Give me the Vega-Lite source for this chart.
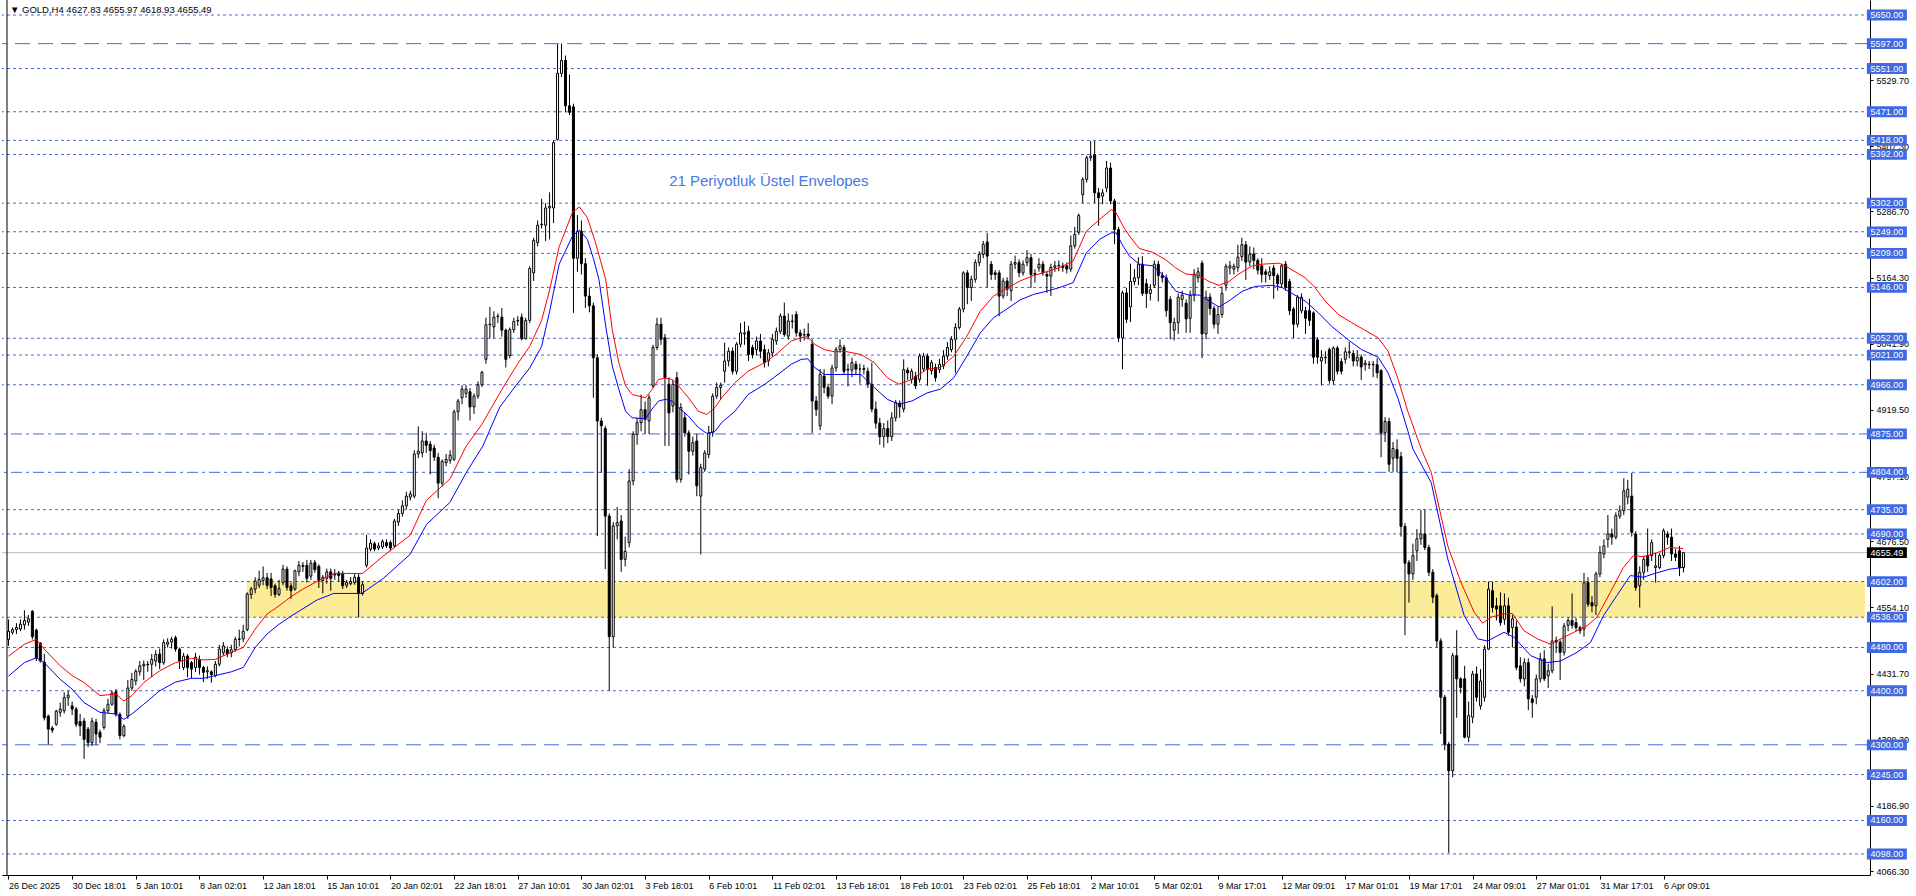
{
"$schema":"https://vega.github.io/schema/vega-lite/v6.json",
"width":1868,"height":875,
"autosize":{"type":"none"},
"padding":{"left":2,"top":0,"right":46,"bottom":21},
"background":"#ffffff",
"config":{"view":{"stroke":null},"font":"Liberation Sans"},
"datasets":{
"candles":[
{"k":0,"o":4495,"h":4532,"l":4483,"c":4510},{"k":1,"o":4508,"h":4517,"l":4504,"c":4513},{"k":2,"o":4513,"h":4525,"l":4505,"c":4517},{"k":3,"o":4514,"h":4532,"l":4510,"c":4523},{"k":4,"o":4522,"h":4549,"l":4513,"c":4530},{"k":5,"o":4527,"h":4540,"l":4520,"c":4533},{"k":6,"o":4547,"h":4549,"l":4495,"c":4500},{"k":7,"o":4512,"h":4515,"l":4455,"c":4461},{"k":8,"o":4488,"h":4490,"l":4452,"c":4455},{"k":9,"o":4453,"h":4468,"l":4345,"c":4350},
{"k":10,"o":4353,"h":4356,"l":4301,"c":4329},{"k":11,"o":4331,"h":4335,"l":4322,"c":4327},{"k":12,"o":4338,"h":4365,"l":4335,"c":4362},{"k":13,"o":4360,"h":4378,"l":4352,"c":4366},{"k":14,"o":4363,"h":4397,"l":4358,"c":4387},{"k":15,"o":4387,"h":4400,"l":4372,"c":4392},{"k":16,"o":4372,"h":4380,"l":4355,"c":4366},{"k":17,"o":4366,"h":4370,"l":4333,"c":4338},{"k":18,"o":4343,"h":4357,"l":4316,"c":4335},{"k":19,"o":4344,"h":4350,"l":4274,"c":4310},
{"k":20,"o":4329,"h":4333,"l":4296,"c":4304},{"k":21,"o":4304,"h":4350,"l":4298,"c":4344},{"k":22,"o":4342,"h":4348,"l":4300,"c":4320},{"k":23,"o":4323,"h":4328,"l":4303,"c":4314},{"k":24,"o":4332,"h":4368,"l":4328,"c":4363},{"k":25,"o":4363,"h":4385,"l":4358,"c":4375},{"k":26,"o":4375,"h":4400,"l":4372,"c":4396},{"k":27,"o":4398,"h":4403,"l":4352,"c":4356},{"k":28,"o":4356,"h":4360,"l":4310,"c":4317},{"k":29,"o":4317,"h":4338,"l":4314,"c":4334},
{"k":30,"o":4353,"h":4420,"l":4348,"c":4405},{"k":31,"o":4405,"h":4433,"l":4400,"c":4421},{"k":32,"o":4418,"h":4440,"l":4410,"c":4436},{"k":33,"o":4435,"h":4455,"l":4428,"c":4446},{"k":34,"o":4446,"h":4456,"l":4420,"c":4449},{"k":35,"o":4449,"h":4455,"l":4435,"c":4448},{"k":36,"o":4449,"h":4468,"l":4425,"c":4458},{"k":37,"o":4455,"h":4475,"l":4445,"c":4467},{"k":38,"o":4468,"h":4478,"l":4440,"c":4452},{"k":39,"o":4452,"h":4495,"l":4448,"c":4489},
{"k":40,"o":4486,"h":4497,"l":4480,"c":4490},{"k":41,"o":4490,"h":4500,"l":4478,"c":4495},{"k":42,"o":4498,"h":4502,"l":4472,"c":4477},{"k":43,"o":4477,"h":4480,"l":4440,"c":4455},{"k":44,"o":4443,"h":4470,"l":4438,"c":4464},{"k":45,"o":4464,"h":4468,"l":4425,"c":4443},{"k":46,"o":4452,"h":4455,"l":4423,"c":4440},{"k":47,"o":4443,"h":4470,"l":4435,"c":4462},{"k":48,"o":4458,"h":4465,"l":4430,"c":4443},{"k":49,"o":4443,"h":4446,"l":4416,"c":4434},
{"k":50,"o":4435,"h":4445,"l":4422,"c":4437},{"k":51,"o":4435,"h":4438,"l":4415,"c":4430},{"k":52,"o":4428,"h":4455,"l":4425,"c":4449},{"k":53,"o":4449,"h":4485,"l":4445,"c":4477},{"k":54,"o":4470,"h":4490,"l":4465,"c":4483},{"k":55,"o":4476,"h":4482,"l":4462,"c":4468},{"k":56,"o":4470,"h":4485,"l":4462,"c":4476},{"k":57,"o":4476,"h":4500,"l":4472,"c":4495},{"k":58,"o":4495,"h":4513,"l":4482,"c":4496},{"k":59,"o":4496,"h":4522,"l":4490,"c":4510},
{"k":60,"o":4513,"h":4582,"l":4510,"c":4579},{"k":61,"o":4578,"h":4592,"l":4570,"c":4588},{"k":62,"o":4588,"h":4610,"l":4580,"c":4603},{"k":63,"o":4595,"h":4622,"l":4590,"c":4606},{"k":64,"o":4604,"h":4630,"l":4595,"c":4609},{"k":65,"o":4609,"h":4618,"l":4588,"c":4595},{"k":66,"o":4607,"h":4618,"l":4575,"c":4591},{"k":67,"o":4594,"h":4598,"l":4572,"c":4578},{"k":68,"o":4578,"h":4605,"l":4575,"c":4589},{"k":69,"o":4600,"h":4633,"l":4595,"c":4625},
{"k":70,"o":4625,"h":4630,"l":4585,"c":4591},{"k":71,"o":4594,"h":4600,"l":4570,"c":4585},{"k":72,"o":4588,"h":4624,"l":4585,"c":4622},{"k":73,"o":4620,"h":4640,"l":4612,"c":4632},{"k":74,"o":4630,"h":4638,"l":4620,"c":4632},{"k":75,"o":4632,"h":4642,"l":4600,"c":4608},{"k":76,"o":4612,"h":4642,"l":4605,"c":4636},{"k":77,"o":4637,"h":4642,"l":4618,"c":4624},{"k":78,"o":4630,"h":4634,"l":4590,"c":4604},{"k":79,"o":4604,"h":4614,"l":4580,"c":4610},
{"k":80,"o":4608,"h":4626,"l":4598,"c":4620},{"k":81,"o":4620,"h":4626,"l":4585,"c":4608},{"k":82,"o":4614,"h":4625,"l":4605,"c":4616},{"k":83,"o":4618,"h":4622,"l":4602,"c":4613},{"k":84,"o":4617,"h":4622,"l":4588,"c":4594},{"k":85,"o":4595,"h":4605,"l":4590,"c":4600},{"k":86,"o":4598,"h":4610,"l":4595,"c":4602},{"k":87,"o":4600,"h":4616,"l":4596,"c":4610},{"k":88,"o":4610,"h":4616,"l":4536,"c":4580},{"k":89,"o":4580,"h":4602,"l":4576,"c":4596},
{"k":90,"o":4632,"h":4688,"l":4628,"c":4664},{"k":91,"o":4662,"h":4680,"l":4658,"c":4673},{"k":92,"o":4672,"h":4676,"l":4658,"c":4662},{"k":93,"o":4664,"h":4674,"l":4660,"c":4668},{"k":94,"o":4666,"h":4680,"l":4662,"c":4676},{"k":95,"o":4674,"h":4680,"l":4664,"c":4668},{"k":96,"o":4674,"h":4678,"l":4658,"c":4664},{"k":97,"o":4668,"h":4718,"l":4664,"c":4714},{"k":98,"o":4712,"h":4735,"l":4705,"c":4728},{"k":99,"o":4728,"h":4752,"l":4722,"c":4742},
{"k":100,"o":4742,"h":4768,"l":4735,"c":4760},{"k":101,"o":4758,"h":4770,"l":4752,"c":4764},{"k":102,"o":4760,"h":4845,"l":4756,"c":4838},{"k":103,"o":4838,"h":4889,"l":4830,"c":4843},{"k":104,"o":4840,"h":4880,"l":4832,"c":4862},{"k":105,"o":4862,"h":4877,"l":4840,"c":4854},{"k":106,"o":4856,"h":4862,"l":4800,"c":4844},{"k":107,"o":4849,"h":4855,"l":4825,"c":4832},{"k":108,"o":4832,"h":4840,"l":4756,"c":4784},{"k":109,"o":4784,"h":4828,"l":4778,"c":4824},
{"k":110,"o":4822,"h":4838,"l":4815,"c":4828},{"k":111,"o":4826,"h":4845,"l":4820,"c":4836},{"k":112,"o":4828,"h":4920,"l":4825,"c":4916},{"k":113,"o":4916,"h":4940,"l":4900,"c":4936},{"k":114,"o":4942,"h":4965,"l":4930,"c":4958},{"k":115,"o":4950,"h":4965,"l":4942,"c":4958},{"k":116,"o":4953,"h":4960,"l":4900,"c":4925},{"k":117,"o":4925,"h":4950,"l":4912,"c":4945},{"k":118,"o":4945,"h":4972,"l":4940,"c":4966},{"k":119,"o":4966,"h":4992,"l":4962,"c":4989},
{"k":120,"o":5013,"h":5090,"l":5005,"c":5077},{"k":121,"o":5077,"h":5110,"l":5052,"c":5078},{"k":122,"o":5073,"h":5102,"l":5052,"c":5091},{"k":123,"o":5092,"h":5098,"l":5080,"c":5093},{"k":124,"o":5091,"h":5108,"l":5055,"c":5067},{"k":125,"o":5067,"h":5070,"l":4998,"c":5013},{"k":126,"o":5020,"h":5072,"l":5015,"c":5068},{"k":127,"o":5068,"h":5090,"l":5062,"c":5083},{"k":128,"o":5084,"h":5093,"l":5075,"c":5085},{"k":129,"o":5091,"h":5098,"l":5048,"c":5051},
{"k":130,"o":5051,"h":5090,"l":5050,"c":5085},{"k":131,"o":5085,"h":5185,"l":5080,"c":5181},{"k":132,"o":5173,"h":5238,"l":5158,"c":5233},{"k":133,"o":5229,"h":5270,"l":5222,"c":5261},{"k":134,"o":5262,"h":5310,"l":5255,"c":5263},{"k":135,"o":5261,"h":5302,"l":5232,"c":5293},{"k":136,"o":5293,"h":5322,"l":5235,"c":5296},{"k":137,"o":5293,"h":5418,"l":5265,"c":5414},{"k":138,"o":5420,"h":5596,"l":5418,"c":5542},{"k":139,"o":5542,"h":5597,"l":5535,"c":5566},
{"k":140,"o":5566,"h":5575,"l":5470,"c":5482},{"k":141,"o":5482,"h":5540,"l":5465,"c":5470},{"k":142,"o":5480,"h":5486,"l":5099,"c":5200},{"k":143,"o":5200,"h":5280,"l":5175,"c":5250},{"k":144,"o":5250,"h":5270,"l":5170,"c":5190},{"k":145,"o":5190,"h":5200,"l":5108,"c":5130},{"k":146,"o":5130,"h":5145,"l":5100,"c":5112},{"k":147,"o":5112,"h":5118,"l":4942,"c":5016},{"k":148,"o":5016,"h":5022,"l":4686,"c":4899},{"k":149,"o":4899,"h":4905,"l":4803,"c":4890},
{"k":150,"o":4885,"h":4890,"l":4625,"c":4723},{"k":151,"o":4723,"h":4728,"l":4400,"c":4500},{"k":152,"o":4500,"h":4712,"l":4480,"c":4705},{"k":153,"o":4705,"h":4740,"l":4680,"c":4711},{"k":154,"o":4714,"h":4725,"l":4620,"c":4643},{"k":155,"o":4643,"h":4685,"l":4630,"c":4658},{"k":156,"o":4674,"h":4810,"l":4665,"c":4788},{"k":157,"o":4788,"h":4880,"l":4780,"c":4874},{"k":158,"o":4874,"h":4905,"l":4855,"c":4896},{"k":159,"o":4896,"h":4948,"l":4880,"c":4920},
{"k":160,"o":4920,"h":4935,"l":4875,"c":4902},{"k":161,"o":4899,"h":4948,"l":4875,"c":4942},{"k":162,"o":4964,"h":5040,"l":4960,"c":5035},{"k":163,"o":5035,"h":5090,"l":5030,"c":5078},{"k":164,"o":5078,"h":5090,"l":5040,"c":5050},{"k":165,"o":5053,"h":5060,"l":4853,"c":4979},{"k":166,"o":4967,"h":4980,"l":4853,"c":4914},{"k":167,"o":4927,"h":4975,"l":4915,"c":4967},{"k":168,"o":4979,"h":4990,"l":4785,"c":4791},{"k":169,"o":4791,"h":4932,"l":4785,"c":4924},
{"k":170,"o":4905,"h":4915,"l":4870,"c":4877},{"k":171,"o":4877,"h":4882,"l":4800,"c":4843},{"k":172,"o":4843,"h":4870,"l":4835,"c":4859},{"k":173,"o":4862,"h":4875,"l":4760,"c":4779},{"k":174,"o":4760,"h":4820,"l":4652,"c":4813},{"k":175,"o":4810,"h":4845,"l":4805,"c":4840},{"k":176,"o":4837,"h":4890,"l":4830,"c":4877},{"k":177,"o":4877,"h":4950,"l":4870,"c":4945},{"k":178,"o":4945,"h":4970,"l":4940,"c":4961},{"k":179,"o":4961,"h":4970,"l":4938,"c":4965},
{"k":180,"o":4991,"h":5044,"l":4970,"c":5010},{"k":181,"o":5010,"h":5035,"l":5000,"c":5028},{"k":182,"o":5028,"h":5035,"l":4985,"c":4991},{"k":183,"o":4991,"h":5045,"l":4985,"c":5041},{"k":184,"o":5041,"h":5080,"l":5035,"c":5062},{"k":185,"o":5060,"h":5083,"l":5040,"c":5062},{"k":186,"o":5065,"h":5075,"l":5010,"c":5022},{"k":187,"o":5035,"h":5040,"l":5015,"c":5022},{"k":188,"o":5031,"h":5055,"l":5020,"c":5047},{"k":189,"o":5047,"h":5060,"l":5015,"c":5028},
{"k":190,"o":5031,"h":5040,"l":4998,"c":5007},{"k":191,"o":5010,"h":5032,"l":5000,"c":5025},{"k":192,"o":5025,"h":5060,"l":5018,"c":5050},{"k":193,"o":5047,"h":5072,"l":5040,"c":5065},{"k":194,"o":5065,"h":5098,"l":5060,"c":5093},{"k":195,"o":5093,"h":5118,"l":5055,"c":5059},{"k":196,"o":5056,"h":5098,"l":5050,"c":5084},{"k":197,"o":5083,"h":5096,"l":5070,"c":5084},{"k":198,"o":5096,"h":5102,"l":5055,"c":5062},{"k":199,"o":5062,"h":5068,"l":5045,"c":5056},
{"k":200,"o":5058,"h":5070,"l":5048,"c":5059},{"k":201,"o":5060,"h":5080,"l":5050,"c":5056},{"k":202,"o":5041,"h":5050,"l":4877,"c":4936},{"k":203,"o":4936,"h":4945,"l":4908,"c":4920},{"k":204,"o":4890,"h":4995,"l":4882,"c":4985},{"k":205,"o":4982,"h":4995,"l":4950,"c":4961},{"k":206,"o":4961,"h":4968,"l":4940,"c":4945},{"k":207,"o":4945,"h":5003,"l":4930,"c":4997},{"k":208,"o":4997,"h":5036,"l":4990,"c":5031},{"k":209,"o":5031,"h":5050,"l":5025,"c":5038},
{"k":210,"o":5035,"h":5040,"l":4985,"c":4991},{"k":211,"o":4993,"h":5005,"l":4963,"c":4995},{"k":212,"o":4993,"h":5016,"l":4980,"c":5007},{"k":213,"o":5004,"h":5010,"l":4985,"c":4995},{"k":214,"o":4995,"h":5005,"l":4968,"c":4995},{"k":215,"o":4994,"h":5003,"l":4985,"c":4996},{"k":216,"o":4991,"h":4998,"l":4960,"c":4967},{"k":217,"o":4967,"h":5007,"l":4915,"c":4921},{"k":218,"o":4921,"h":4935,"l":4885,"c":4895},{"k":219,"o":4895,"h":4905,"l":4855,"c":4870},
{"k":220,"o":4870,"h":4895,"l":4850,"c":4885},{"k":221,"o":4885,"h":4900,"l":4858,"c":4870},{"k":222,"o":4870,"h":4915,"l":4862,"c":4905},{"k":223,"o":4905,"h":4938,"l":4898,"c":4933},{"k":224,"o":4932,"h":4937,"l":4905,"c":4925},{"k":225,"o":4921,"h":5013,"l":4915,"c":4994},{"k":226,"o":4993,"h":4998,"l":4975,"c":4988},{"k":227,"o":4976,"h":4996,"l":4968,"c":4991},{"k":228,"o":4982,"h":4990,"l":4958,"c":4964},{"k":229,"o":4976,"h":5024,"l":4970,"c":5019},
{"k":230,"o":4995,"h":5025,"l":4990,"c":5019},{"k":231,"o":5019,"h":5024,"l":4964,"c":4995},{"k":232,"o":4992,"h":5012,"l":4985,"c":5007},{"k":233,"o":4998,"h":5005,"l":4972,"c":4979},{"k":234,"o":4994,"h":5014,"l":4988,"c":5004},{"k":235,"o":5001,"h":5030,"l":4995,"c":5019},{"k":236,"o":5019,"h":5045,"l":5012,"c":5035},{"k":237,"o":5031,"h":5056,"l":5026,"c":5050},{"k":238,"o":5050,"h":5080,"l":4988,"c":5072},{"k":239,"o":5072,"h":5110,"l":5068,"c":5106},
{"k":240,"o":5106,"h":5176,"l":5100,"c":5173},{"k":241,"o":5173,"h":5178,"l":5115,"c":5146},{"k":242,"o":5146,"h":5168,"l":5121,"c":5161},{"k":243,"o":5161,"h":5198,"l":5155,"c":5192},{"k":244,"o":5192,"h":5213,"l":5185,"c":5207},{"k":245,"o":5207,"h":5232,"l":5200,"c":5226},{"k":246,"o":5230,"h":5247,"l":5146,"c":5204},{"k":247,"o":5189,"h":5195,"l":5160,"c":5170},{"k":248,"o":5173,"h":5178,"l":5160,"c":5170},{"k":249,"o":5173,"h":5178,"l":5093,"c":5130},
{"k":250,"o":5130,"h":5164,"l":5125,"c":5158},{"k":251,"o":5158,"h":5165,"l":5130,"c":5143},{"k":252,"o":5140,"h":5195,"l":5121,"c":5189},{"k":253,"o":5189,"h":5205,"l":5180,"c":5192},{"k":254,"o":5192,"h":5198,"l":5165,"c":5173},{"k":255,"o":5173,"h":5196,"l":5168,"c":5189},{"k":256,"o":5192,"h":5215,"l":5185,"c":5201},{"k":257,"o":5201,"h":5208,"l":5145,"c":5170},{"k":258,"o":5172,"h":5180,"l":5155,"c":5170},{"k":259,"o":5182,"h":5200,"l":5175,"c":5189},
{"k":260,"o":5189,"h":5195,"l":5168,"c":5173},{"k":261,"o":5170,"h":5176,"l":5136,"c":5167},{"k":262,"o":5167,"h":5190,"l":5130,"c":5183},{"k":263,"o":5183,"h":5195,"l":5175,"c":5186},{"k":264,"o":5186,"h":5196,"l":5176,"c":5187},{"k":265,"o":5186,"h":5192,"l":5175,"c":5183},{"k":266,"o":5186,"h":5192,"l":5172,"c":5180},{"k":267,"o":5180,"h":5242,"l":5175,"c":5223},{"k":268,"o":5223,"h":5258,"l":5218,"c":5244},{"k":269,"o":5248,"h":5283,"l":5243,"c":5279},
{"k":270,"o":5318,"h":5350,"l":5302,"c":5346},{"k":271,"o":5346,"h":5390,"l":5340,"c":5386},{"k":272,"o":5386,"h":5417,"l":5380,"c":5389},{"k":273,"o":5392,"h":5417,"l":5302,"c":5321},{"k":274,"o":5321,"h":5330,"l":5260,"c":5312},{"k":275,"o":5315,"h":5328,"l":5300,"c":5321},{"k":276,"o":5330,"h":5380,"l":5322,"c":5367},{"k":277,"o":5367,"h":5377,"l":5300,"c":5306},{"k":278,"o":5306,"h":5310,"l":5226,"c":5253},{"k":279,"o":5253,"h":5258,"l":5045,"c":5053},
{"k":280,"o":5053,"h":5140,"l":4995,"c":5136},{"k":281,"o":5136,"h":5145,"l":5080,"c":5087},{"k":282,"o":5110,"h":5190,"l":5082,"c":5157},{"k":283,"o":5157,"h":5180,"l":5150,"c":5164},{"k":284,"o":5164,"h":5202,"l":5150,"c":5189},{"k":285,"o":5189,"h":5204,"l":5130,"c":5135},{"k":286,"o":5153,"h":5162,"l":5108,"c":5135},{"k":287,"o":5135,"h":5152,"l":5122,"c":5142},{"k":288,"o":5150,"h":5196,"l":5145,"c":5189},{"k":289,"o":5189,"h":5195,"l":5120,"c":5168},
{"k":290,"o":5168,"h":5175,"l":5155,"c":5164},{"k":291,"o":5164,"h":5170,"l":5092,"c":5103},{"k":292,"o":5124,"h":5130,"l":5050,"c":5081},{"k":293,"o":5067,"h":5090,"l":5048,"c":5081},{"k":294,"o":5081,"h":5135,"l":5060,"c":5128},{"k":295,"o":5124,"h":5140,"l":5110,"c":5132},{"k":296,"o":5117,"h":5124,"l":5062,"c":5088},{"k":297,"o":5089,"h":5140,"l":5062,"c":5132},{"k":298,"o":5132,"h":5180,"l":5120,"c":5171},{"k":299,"o":5164,"h":5183,"l":5155,"c":5175},
{"k":300,"o":5191,"h":5196,"l":5015,"c":5060},{"k":301,"o":5060,"h":5140,"l":5050,"c":5128},{"k":302,"o":5128,"h":5135,"l":5095,"c":5107},{"k":303,"o":5107,"h":5112,"l":5070,"c":5078},{"k":304,"o":5078,"h":5110,"l":5060,"c":5096},{"k":305,"o":5096,"h":5148,"l":5090,"c":5135},{"k":306,"o":5150,"h":5190,"l":5140,"c":5185},{"k":307,"o":5182,"h":5195,"l":5170,"c":5186},{"k":308,"o":5180,"h":5190,"l":5170,"c":5185},{"k":309,"o":5183,"h":5225,"l":5175,"c":5202},
{"k":310,"o":5203,"h":5238,"l":5195,"c":5225},{"k":311,"o":5225,"h":5232,"l":5160,"c":5193},{"k":312,"o":5193,"h":5222,"l":5185,"c":5207},{"k":313,"o":5208,"h":5220,"l":5180,"c":5196},{"k":314,"o":5196,"h":5200,"l":5170,"c":5178},{"k":315,"o":5186,"h":5200,"l":5155,"c":5170},{"k":316,"o":5175,"h":5180,"l":5155,"c":5170},{"k":317,"o":5168,"h":5185,"l":5160,"c":5175},{"k":318,"o":5182,"h":5188,"l":5125,"c":5168},{"k":319,"o":5168,"h":5172,"l":5140,"c":5153},
{"k":320,"o":5153,"h":5190,"l":5145,"c":5186},{"k":321,"o":5189,"h":5195,"l":5140,"c":5146},{"k":322,"o":5157,"h":5162,"l":5095,"c":5103},{"k":323,"o":5106,"h":5110,"l":5052,"c":5078},{"k":324,"o":5078,"h":5132,"l":5072,"c":5128},{"k":325,"o":5103,"h":5135,"l":5098,"c":5128},{"k":326,"o":5103,"h":5110,"l":5060,"c":5089},{"k":327,"o":5103,"h":5125,"l":5075,"c":5085},{"k":328,"o":5099,"h":5102,"l":5005,"c":5017},{"k":329,"o":5049,"h":5054,"l":5005,"c":5017},
{"k":330,"o":5010,"h":5030,"l":4965,"c":5017},{"k":331,"o":5017,"h":5028,"l":5005,"c":5016},{"k":332,"o":5031,"h":5035,"l":4968,"c":4974},{"k":333,"o":4974,"h":5037,"l":4966,"c":5034},{"k":334,"o":5034,"h":5038,"l":4985,"c":4991},{"k":335,"o":5009,"h":5015,"l":4985,"c":4991},{"k":336,"o":5013,"h":5035,"l":5005,"c":5027},{"k":337,"o":5025,"h":5045,"l":5015,"c":5027},{"k":338,"o":5024,"h":5030,"l":5000,"c":5010},{"k":339,"o":5010,"h":5030,"l":5000,"c":5017},
{"k":340,"o":5017,"h":5022,"l":4975,"c":4999},{"k":341,"o":5003,"h":5012,"l":4992,"c":5006},{"k":342,"o":5004,"h":5010,"l":4995,"c":5003},{"k":343,"o":5004,"h":5010,"l":4980,"c":5003},{"k":344,"o":5003,"h":5015,"l":4978,"c":4988},{"k":345,"o":4992,"h":4995,"l":4832,"c":4877},{"k":346,"o":4877,"h":4906,"l":4860,"c":4898},{"k":347,"o":4898,"h":4905,"l":4805,"c":4819},{"k":348,"o":4830,"h":4860,"l":4805,"c":4848},{"k":349,"o":4846,"h":4865,"l":4805,"c":4830},
{"k":350,"o":4833,"h":4842,"l":4685,"c":4704},{"k":351,"o":4704,"h":4710,"l":4503,"c":4636},{"k":352,"o":4637,"h":4642,"l":4563,"c":4616},{"k":353,"o":4616,"h":4672,"l":4605,"c":4650},{"k":354,"o":4659,"h":4699,"l":4640,"c":4681},{"k":355,"o":4681,"h":4735,"l":4670,"c":4690},{"k":356,"o":4690,"h":4735,"l":4660,"c":4665},{"k":357,"o":4665,"h":4670,"l":4612,"c":4619},{"k":358,"o":4619,"h":4625,"l":4562,"c":4573},{"k":359,"o":4576,"h":4580,"l":4480,"c":4492},
{"k":360,"o":4492,"h":4497,"l":4320,"c":4388},{"k":361,"o":4388,"h":4392,"l":4290,"c":4301},{"k":362,"o":4301,"h":4305,"l":4100,"c":4252},{"k":363,"o":4252,"h":4470,"l":4240,"c":4465},{"k":364,"o":4465,"h":4512,"l":4350,"c":4422},{"k":365,"o":4422,"h":4425,"l":4395,"c":4406},{"k":366,"o":4422,"h":4446,"l":4312,"c":4314},{"k":367,"o":4314,"h":4380,"l":4305,"c":4354},{"k":368,"o":4351,"h":4437,"l":4340,"c":4431},{"k":369,"o":4431,"h":4445,"l":4380,"c":4388},
{"k":370,"o":4372,"h":4440,"l":4365,"c":4418},{"k":371,"o":4388,"h":4484,"l":4380,"c":4477},{"k":372,"o":4477,"h":4602,"l":4475,"c":4588},{"k":373,"o":4585,"h":4602,"l":4545,"c":4554},{"k":374,"o":4557,"h":4572,"l":4530,"c":4551},{"k":375,"o":4557,"h":4582,"l":4520,"c":4526},{"k":376,"o":4532,"h":4580,"l":4522,"c":4557},{"k":377,"o":4557,"h":4572,"l":4502,"c":4508},{"k":378,"o":4517,"h":4540,"l":4480,"c":4533},{"k":379,"o":4518,"h":4530,"l":4438,"c":4443},
{"k":380,"o":4446,"h":4462,"l":4415,"c":4422},{"k":381,"o":4422,"h":4460,"l":4408,"c":4452},{"k":382,"o":4452,"h":4460,"l":4364,"c":4385},{"k":383,"o":4385,"h":4392,"l":4350,"c":4378},{"k":384,"o":4388,"h":4430,"l":4375,"c":4422},{"k":385,"o":4422,"h":4470,"l":4415,"c":4459},{"k":386,"o":4459,"h":4475,"l":4418,"c":4422},{"k":387,"o":4428,"h":4450,"l":4405,"c":4437},{"k":388,"o":4437,"h":4556,"l":4432,"c":4492},{"k":389,"o":4493,"h":4500,"l":4470,"c":4490},
{"k":390,"o":4490,"h":4495,"l":4420,"c":4471},{"k":391,"o":4471,"h":4525,"l":4465,"c":4520},{"k":392,"o":4521,"h":4535,"l":4510,"c":4530},{"k":393,"o":4530,"h":4580,"l":4515,"c":4521},{"k":394,"o":4526,"h":4535,"l":4510,"c":4517},{"k":395,"o":4517,"h":4520,"l":4505,"c":4511},{"k":396,"o":4514,"h":4618,"l":4500,"c":4600},{"k":397,"o":4600,"h":4610,"l":4555,"c":4560},{"k":398,"o":4563,"h":4575,"l":4545,"c":4557},{"k":399,"o":4557,"h":4620,"l":4540,"c":4616},
{"k":400,"o":4616,"h":4668,"l":4610,"c":4656},{"k":401,"o":4653,"h":4680,"l":4645,"c":4668},{"k":402,"o":4680,"h":4725,"l":4665,"c":4690},{"k":403,"o":4690,"h":4700,"l":4670,"c":4684},{"k":404,"o":4684,"h":4730,"l":4680,"c":4724},{"k":405,"o":4723,"h":4743,"l":4718,"c":4733},{"k":406,"o":4733,"h":4793,"l":4725,"c":4770},{"k":407,"o":4758,"h":4790,"l":4745,"c":4773},{"k":408,"o":4760,"h":4803,"l":4685,"c":4693},{"k":409,"o":4690,"h":4695,"l":4585,"c":4591},
{"k":410,"o":4594,"h":4630,"l":4554,"c":4619},{"k":411,"o":4619,"h":4650,"l":4605,"c":4643},{"k":412,"o":4650,"h":4700,"l":4620,"c":4631},{"k":413,"o":4650,"h":4680,"l":4640,"c":4674},{"k":414,"o":4628,"h":4655,"l":4600,"c":4631},{"k":415,"o":4628,"h":4655,"l":4625,"c":4650},{"k":416,"o":4650,"h":4700,"l":4645,"c":4696},{"k":417,"o":4690,"h":4695,"l":4670,"c":4684},{"k":418,"o":4684,"h":4700,"l":4640,"c":4653},{"k":419,"o":4653,"h":4662,"l":4640,"c":4647},
{"k":420,"o":4659,"h":4668,"l":4612,"c":4628},{"k":421,"o":4627.83,"h":4655.97,"l":4618.93,"c":4655.49}
],
"env":[
{"k":0,"v":4464,"band":"upper"},{"k":4,"v":4486,"band":"upper"},{"k":7,"v":4495,"band":"upper"},{"k":9,"v":4477,"band":"upper"},{"k":13,"v":4446,"band":"upper"},{"k":16,"v":4428,"band":"upper"},{"k":19,"v":4415,"band":"upper"},{"k":23,"v":4391,"band":"upper"},{"k":27,"v":4394,"band":"upper"},{"k":29,"v":4381,"band":"upper"},{"k":31,"v":4391,"band":"upper"},{"k":34,"v":4415,"band":"upper"},{"k":38,"v":4437,"band":"upper"},{"k":42,"v":4452,"band":"upper"},{"k":46,"v":4460,"band":"upper"},{"k":49,"v":4457,"band":"upper"},{"k":52,"v":4458,"band":"upper"},{"k":56,"v":4471,"band":"upper"},{"k":59,"v":4480,"band":"upper"},{"k":62,"v":4514,"band":"upper"},{"k":65,"v":4542,"band":"upper"},{"k":68,"v":4557,"band":"upper"},{"k":71,"v":4574,"band":"upper"},{"k":74,"v":4588,"band":"upper"},{"k":78,"v":4604,"band":"upper"},{"k":82,"v":4617,"band":"upper"},{"k":89,"v":4617,"band":"upper"},{"k":94,"v":4648,"band":"upper"},{"k":101,"v":4688,"band":"upper"},{"k":105,"v":4752,"band":"upper"},{"k":111,"v":4792,"band":"upper"},{"k":115,"v":4852,"band":"upper"},{"k":119,"v":4893,"band":"upper"},{"k":124,"v":4957,"band":"upper"},{"k":128,"v":5005,"band":"upper"},{"k":131,"v":5037,"band":"upper"},{"k":134,"v":5085,"band":"upper"},{"k":136,"v":5141,"band":"upper"},{"k":138.4,"v":5221,"band":"upper"},{"k":141.75,"v":5285,"band":"upper"},{"k":143.5,"v":5295,"band":"upper"},{"k":145.5,"v":5275,"band":"upper"},{"k":147.5,"v":5230,"band":"upper"},{"k":150.1,"v":5161,"band":"upper"},{"k":151.75,"v":5068,"band":"upper"},{"k":153.4,"v":5007,"band":"upper"},{"k":155.1,"v":4964,"band":"upper"},{"k":156.75,"v":4948,"band":"upper"},{"k":160.1,"v":4942,"band":"upper"},{"k":161.75,"v":4957,"band":"upper"},{"k":163.4,"v":4976,"band":"upper"},{"k":165.1,"v":4978,"band":"upper"},{"k":166.75,"v":4976,"band":"upper"},{"k":168.4,"v":4964,"band":"upper"},{"k":170.9,"v":4942,"band":"upper"},{"k":173.4,"v":4917,"band":"upper"},{"k":175.5,"v":4911,"band":"upper"},{"k":177.6,"v":4924,"band":"upper"},{"k":179.25,"v":4942,"band":"upper"},{"k":182.6,"v":4970,"band":"upper"},{"k":185.9,"v":4991,"band":"upper"},{"k":190.1,"v":5007,"band":"upper"},{"k":193.4,"v":5025,"band":"upper"},{"k":196.75,"v":5047,"band":"upper"},{"k":199.25,"v":5053,"band":"upper"},{"k":200.9,"v":5055,"band":"upper"},{"k":202.6,"v":5041,"band":"upper"},{"k":205.1,"v":5031,"band":"upper"},{"k":207.6,"v":5027,"band":"upper"},{"k":210.1,"v":5028,"band":"upper"},{"k":214.25,"v":5022,"band":"upper"},{"k":217.6,"v":5007,"band":"upper"},{"k":220.9,"v":4979,"band":"upper"},{"k":223.8,"v":4967,"band":"upper"},{"k":227.1,"v":4976,"band":"upper"},{"k":230.9,"v":4995,"band":"upper"},{"k":234.25,"v":4998,"band":"upper"},{"k":237.6,"v":5019,"band":"upper"},{"k":240.9,"v":5056,"band":"upper"},{"k":244.25,"v":5102,"band":"upper"},{"k":247.6,"v":5130,"band":"upper"},{"k":250.9,"v":5144,"band":"upper"},{"k":254.25,"v":5158,"band":"upper"},{"k":257.6,"v":5168,"band":"upper"},{"k":260.9,"v":5175,"band":"upper"},{"k":264.25,"v":5183,"band":"upper"},{"k":267.6,"v":5195,"band":"upper"},{"k":270.9,"v":5250,"band":"upper"},{"k":274.25,"v":5272,"band":"upper"},{"k":277.2,"v":5290,"band":"upper"},{"k":278.4,"v":5284,"band":"upper"},{"k":280.1,"v":5260,"band":"upper"},{"k":281.75,"v":5241,"band":"upper"},{"k":284.25,"v":5218,"band":"upper"},{"k":287.6,"v":5211,"band":"upper"},{"k":290.9,"v":5197,"band":"upper"},{"k":293.4,"v":5182,"band":"upper"},{"k":295.9,"v":5171,"band":"upper"},{"k":299.25,"v":5168,"band":"upper"},{"k":301.75,"v":5157,"band":"upper"},{"k":304.25,"v":5150,"band":"upper"},{"k":306.75,"v":5157,"band":"upper"},{"k":309.25,"v":5171,"band":"upper"},{"k":312.6,"v":5186,"band":"upper"},{"k":315.1,"v":5189,"band":"upper"},{"k":319.25,"v":5191,"band":"upper"},{"k":320.9,"v":5186,"band":"upper"},{"k":323.4,"v":5175,"band":"upper"},{"k":325.9,"v":5164,"band":"upper"},{"k":328.4,"v":5146,"band":"upper"},{"k":330.9,"v":5121,"band":"upper"},{"k":334.25,"v":5096,"band":"upper"},{"k":337.6,"v":5081,"band":"upper"},{"k":340.9,"v":5067,"band":"upper"},{"k":344.25,"v":5053,"band":"upper"},{"k":346.75,"v":5028,"band":"upper"},{"k":349.25,"v":4977,"band":"upper"},{"k":351.75,"v":4916,"band":"upper"},{"k":355.1,"v":4847,"band":"upper"},{"k":357.6,"v":4804,"band":"upper"},{"k":361.75,"v":4668,"band":"upper"},{"k":365.1,"v":4600,"band":"upper"},{"k":368.4,"v":4545,"band":"upper"},{"k":370.5,"v":4525,"band":"upper"},{"k":372.6,"v":4536,"band":"upper"},{"k":375.9,"v":4542,"band":"upper"},{"k":378,"v":4543,"band":"upper"},{"k":380.9,"v":4511,"band":"upper"},{"k":384.25,"v":4496,"band":"upper"},{"k":387.6,"v":4486,"band":"upper"},{"k":390.9,"v":4499,"band":"upper"},{"k":394.25,"v":4511,"band":"upper"},{"k":396.75,"v":4520,"band":"upper"},{"k":399.25,"v":4536,"band":"upper"},{"k":402.6,"v":4582,"band":"upper"},{"k":405.9,"v":4628,"band":"upper"},{"k":408.4,"v":4650,"band":"upper"},{"k":410.9,"v":4648,"band":"upper"},{"k":414.25,"v":4655,"band":"upper"},{"k":417.6,"v":4665,"band":"upper"},{"k":420.9,"v":4663,"band":"upper"},
{"k":0,"v":4427,"band":"lower"},{"k":4,"v":4452,"band":"lower"},{"k":7,"v":4461,"band":"lower"},{"k":9,"v":4452,"band":"lower"},{"k":13,"v":4421,"band":"lower"},{"k":16,"v":4403,"band":"lower"},{"k":19,"v":4378,"band":"lower"},{"k":23,"v":4360,"band":"lower"},{"k":27,"v":4357,"band":"lower"},{"k":29,"v":4347,"band":"lower"},{"k":31,"v":4357,"band":"lower"},{"k":34,"v":4375,"band":"lower"},{"k":38,"v":4400,"band":"lower"},{"k":42,"v":4416,"band":"lower"},{"k":46,"v":4423,"band":"lower"},{"k":49,"v":4423,"band":"lower"},{"k":52,"v":4428,"band":"lower"},{"k":56,"v":4435,"band":"lower"},{"k":59,"v":4443,"band":"lower"},{"k":62,"v":4480,"band":"lower"},{"k":65,"v":4505,"band":"lower"},{"k":68,"v":4523,"band":"lower"},{"k":71,"v":4538,"band":"lower"},{"k":77.6,"v":4568,"band":"lower"},{"k":81.75,"v":4580,"band":"lower"},{"k":88.8,"v":4580,"band":"lower"},{"k":94.25,"v":4608,"band":"lower"},{"k":100.9,"v":4652,"band":"lower"},{"k":105.1,"v":4708,"band":"lower"},{"k":110.9,"v":4748,"band":"lower"},{"k":115.1,"v":4804,"band":"lower"},{"k":119.25,"v":4853,"band":"lower"},{"k":123.5,"v":4925,"band":"lower"},{"k":127.6,"v":4965,"band":"lower"},{"k":131,"v":4997,"band":"lower"},{"k":134,"v":5037,"band":"lower"},{"k":136,"v":5101,"band":"lower"},{"k":138.4,"v":5189,"band":"lower"},{"k":141.75,"v":5241,"band":"lower"},{"k":143.5,"v":5252,"band":"lower"},{"k":145.5,"v":5235,"band":"lower"},{"k":147,"v":5200,"band":"lower"},{"k":148.4,"v":5161,"band":"lower"},{"k":150.1,"v":5075,"band":"lower"},{"k":151.75,"v":5001,"band":"lower"},{"k":153.4,"v":4958,"band":"lower"},{"k":155.1,"v":4917,"band":"lower"},{"k":156.75,"v":4905,"band":"lower"},{"k":160.1,"v":4903,"band":"lower"},{"k":161.75,"v":4921,"band":"lower"},{"k":163.4,"v":4936,"band":"lower"},{"k":165.1,"v":4939,"band":"lower"},{"k":166.75,"v":4936,"band":"lower"},{"k":168.4,"v":4924,"band":"lower"},{"k":170.9,"v":4908,"band":"lower"},{"k":173.4,"v":4887,"band":"lower"},{"k":175.5,"v":4876,"band":"lower"},{"k":177.6,"v":4880,"band":"lower"},{"k":179.25,"v":4896,"band":"lower"},{"k":182.6,"v":4917,"band":"lower"},{"k":185.9,"v":4948,"band":"lower"},{"k":190.1,"v":4967,"band":"lower"},{"k":193.4,"v":4985,"band":"lower"},{"k":196.75,"v":5004,"band":"lower"},{"k":199.25,"v":5013,"band":"lower"},{"k":200.9,"v":5014,"band":"lower"},{"k":202.6,"v":4998,"band":"lower"},{"k":205.1,"v":4985,"band":"lower"},{"k":207.6,"v":4985,"band":"lower"},{"k":210.1,"v":4985,"band":"lower"},{"k":214.25,"v":4985,"band":"lower"},{"k":217.6,"v":4961,"band":"lower"},{"k":220.9,"v":4939,"band":"lower"},{"k":223.8,"v":4930,"band":"lower"},{"k":227.1,"v":4936,"band":"lower"},{"k":230.9,"v":4951,"band":"lower"},{"k":234.25,"v":4958,"band":"lower"},{"k":237.6,"v":4979,"band":"lower"},{"k":240.9,"v":5019,"band":"lower"},{"k":244.25,"v":5062,"band":"lower"},{"k":247.6,"v":5090,"band":"lower"},{"k":250.9,"v":5106,"band":"lower"},{"k":254.25,"v":5123,"band":"lower"},{"k":257.6,"v":5133,"band":"lower"},{"k":260.9,"v":5139,"band":"lower"},{"k":264.25,"v":5146,"band":"lower"},{"k":267.6,"v":5155,"band":"lower"},{"k":270.9,"v":5210,"band":"lower"},{"k":274.25,"v":5235,"band":"lower"},{"k":275.9,"v":5242,"band":"lower"},{"k":277.2,"v":5247,"band":"lower"},{"k":278.4,"v":5247,"band":"lower"},{"k":280.1,"v":5223,"band":"lower"},{"k":281.75,"v":5204,"band":"lower"},{"k":284.25,"v":5189,"band":"lower"},{"k":287.6,"v":5186,"band":"lower"},{"k":290.9,"v":5164,"band":"lower"},{"k":293.4,"v":5139,"band":"lower"},{"k":296.75,"v":5132,"band":"lower"},{"k":299.25,"v":5132,"band":"lower"},{"k":301.75,"v":5121,"band":"lower"},{"k":304.25,"v":5110,"band":"lower"},{"k":306.75,"v":5121,"band":"lower"},{"k":310.1,"v":5139,"band":"lower"},{"k":313.4,"v":5148,"band":"lower"},{"k":317.6,"v":5150,"band":"lower"},{"k":320.1,"v":5146,"band":"lower"},{"k":322.6,"v":5135,"band":"lower"},{"k":325.9,"v":5121,"band":"lower"},{"k":329.25,"v":5099,"band":"lower"},{"k":332.6,"v":5074,"band":"lower"},{"k":336.75,"v":5049,"band":"lower"},{"k":340.1,"v":5031,"band":"lower"},{"k":344.25,"v":5017,"band":"lower"},{"k":346.75,"v":4988,"band":"lower"},{"k":349.25,"v":4941,"band":"lower"},{"k":351.75,"v":4880,"band":"lower"},{"k":353,"v":4847,"band":"lower"},{"k":357.6,"v":4785,"band":"lower"},{"k":361.75,"v":4644,"band":"lower"},{"k":365.9,"v":4539,"band":"lower"},{"k":369.25,"v":4496,"band":"lower"},{"k":371.75,"v":4492,"band":"lower"},{"k":375.9,"v":4508,"band":"lower"},{"k":378.4,"v":4499,"band":"lower"},{"k":382.6,"v":4465,"band":"lower"},{"k":386.75,"v":4452,"band":"lower"},{"k":390.1,"v":4455,"band":"lower"},{"k":394.25,"v":4471,"band":"lower"},{"k":397.6,"v":4489,"band":"lower"},{"k":400.9,"v":4539,"band":"lower"},{"k":404.25,"v":4576,"band":"lower"},{"k":407.6,"v":4613,"band":"lower"},{"k":410.9,"v":4610,"band":"lower"},{"k":414.25,"v":4618,"band":"lower"},{"k":417.6,"v":4625,"band":"lower"},{"k":420.9,"v":4628,"band":"lower"}
],
"levels":[{"p":5650},{"p":5597},{"p":5551},{"p":5471},{"p":5418},{"p":5392},{"p":5302},{"p":5249},{"p":5209},{"p":5146},{"p":5052},{"p":5021},{"p":4966},{"p":4875},{"p":4804},{"p":4735},{"p":4690},{"p":4602},{"p":4536},{"p":4480},{"p":4400},{"p":4300},{"p":4245},{"p":4160},{"p":4098}]
},
"layer":[
{"data":{"values":[{"zone":"support"}]},
 "mark":{"type":"rect","color":"#FCEC97"},
 "encoding":{
  "x":{"datum":59.875,"type":"quantitative","scale":{"domain":[-0.375,466.625],"nice":false,"zero":false},
   "axis":{"title":null,"orient":"bottom","values":[0,16,32,48,64,80,96,112,128,144,160,176,192,208,224,240,256,272,288,304,320,336,352,368,384,400,416],
    "labelExpr":"['26 Dec 2025','30 Dec 18:01','5 Jan 10:01','8 Jan 02:01','12 Jan 18:01','15 Jan 10:01','20 Jan 02:01','22 Jan 18:01','27 Jan 10:01','30 Jan 02:01','3 Feb 18:01','6 Feb 10:01','11 Feb 02:01','13 Feb 18:01','18 Feb 10:01','23 Feb 02:01','25 Feb 18:01','2 Mar 10:01','5 Mar 02:01','9 Mar 17:01','12 Mar 09:01','17 Mar 01:01','19 Mar 17:01','24 Mar 09:01','27 Mar 01:01','31 Mar 17:01','6 Apr 09:01'][round(datum.value/16)]",
    "labelAlign":"left","labelBaseline":"top","labelFontSize":9,"labelColor":"#000000","labelPadding":2,"labelDx":1,"labelOverlap":false,"labelFlush":false,"labelBound":false,"tickSize":4,"tickColor":"#000000","domainColor":"#000000","grid":false}},
  "x2":{"datum":466.625},
  "y":{"datum":4536,"type":"quantitative","scale":{"domain":[4059.15,5677.75],"nice":false,"zero":false},
   "axis":{"title":null,"orient":"right","values":[5590.9,5529.7,5468.5,5407.3,5347.9,5286.7,5225.5,5164.3,5103.1,5041.9,4980.7,4919.5,4858.3,4797.1,4737.7,4676.5,4615.3,4554.1,4492.9,4431.7,4370.5,4309.3,4248.1,4186.9,4125.7,4066.3],
    "format":".2f","labelFontSize":9,"labelColor":"#000000","labelPadding":3,"labelAlign":"left","labelBaseline":"middle","labelOverlap":false,"labelFlush":false,"labelBound":false,"tickSize":3,"tickColor":"#000000","domainColor":"#000000","grid":false}},
  "y2":{"datum":4602}}},
{"data":{"name":"levels"},
 "transform":[{"filter":"datum.p != 5597 && datum.p != 4300 && datum.p != 4875 && datum.p != 4804"}],
 "mark":{"type":"rule","color":"#4169E1","strokeWidth":1,"strokeDash":[3,3]},
 "encoding":{"y":{"field":"p","type":"quantitative","title":null}}},
{"data":{"name":"levels"},
 "transform":[{"filter":"datum.p == 5597 || datum.p == 4300"}],
 "mark":{"type":"rule","color":"#4169E1","strokeWidth":1,"strokeDash":[15,8]},
 "encoding":{"y":{"field":"p","type":"quantitative","title":null}}},
{"data":{"name":"levels"},
 "transform":[{"filter":"datum.p == 4875 || datum.p == 4804"}],
 "mark":{"type":"rule","color":"#4169E1","strokeWidth":1,"strokeDash":[11,4,3,4]},
 "encoding":{"y":{"field":"p","type":"quantitative","title":null}}},
{"data":{"values":[{"bid":4655.49}]},
 "mark":{"type":"rule","color":"#C0C0C0","strokeWidth":1},
 "encoding":{"y":{"field":"bid","type":"quantitative","title":null}}},
{"data":{"name":"candles"},
 "mark":{"type":"rule","color":"#000000","strokeWidth":1},
 "encoding":{"x":{"field":"k","type":"quantitative","title":null},"y":{"field":"l","type":"quantitative","title":null},"y2":{"field":"h"}}},
{"data":{"name":"candles"},
 "mark":{"type":"bar","size":2,"stroke":"#000000","strokeWidth":1,"opacity":1},
 "encoding":{"x":{"field":"k","type":"quantitative","title":null},"y":{"field":"o","type":"quantitative","title":null},"y2":{"field":"c"},
  "fill":{"condition":{"test":"datum.c < datum.o","value":"#000000"},"value":"#ffffff"}}},
{"data":{"name":"env"},
 "mark":{"type":"line","strokeWidth":1},
 "encoding":{"x":{"field":"k","type":"quantitative","title":null},"y":{"field":"v","type":"quantitative","title":null},
  "color":{"field":"band","type":"nominal","scale":{"domain":["upper","lower"],"range":["#FF0000","#0000FF"]},"legend":null}}},
{"data":{"values":[{"t":"21 Periyotluk Üstel Envelopes"}]},
 "mark":{"type":"text","fontSize":15,"color":"#4876E6","align":"center","baseline":"middle","font":"Liberation Sans"},
 "encoding":{"x":{"datum":191.1,"type":"quantitative"},"y":{"datum":5343,"type":"quantitative"},"text":{"field":"t"}}},
{"data":{"values":[{"t":"▼ GOLD,H4  4627.83 4655.97 4618.93 4655.49"}]},
 "mark":{"type":"text","fontSize":9.5,"color":"#000000","align":"left","baseline":"middle","font":"Liberation Sans"},
 "encoding":{"x":{"datum":0.375,"type":"quantitative"},"y":{"datum":5659,"type":"quantitative"},"text":{"field":"t"}}},
{"data":{"values":[{"edge":"left"}]},
 "mark":{"type":"rule","color":"#000000","strokeWidth":1},
 "encoding":{"x":{"datum":-0.375,"type":"quantitative"}}},
{"data":{"name":"levels"},
 "mark":{"type":"point","shape":"M-1,-0.27H1V0.27H-1Z","filled":true,"opacity":1,"size":1600,"color":"#4169E1","strokeWidth":0},
 "encoding":{"x":{"datum":472.125,"type":"quantitative"},"y":{"field":"p","type":"quantitative","title":null}}},
{"data":{"name":"levels"},
 "mark":{"type":"text","fontSize":9,"color":"#ffffff","align":"center","baseline":"middle","font":"Liberation Sans"},
 "encoding":{"x":{"datum":472.125,"type":"quantitative"},"y":{"field":"p","type":"quantitative","title":null},"text":{"field":"p","type":"quantitative","format":".2f"}}},
{"data":{"values":[{"bid":4655.49}]},
 "mark":{"type":"point","shape":"M-1,-0.27H1V0.27H-1Z","filled":true,"opacity":1,"size":1600,"color":"#000000","strokeWidth":0},
 "encoding":{"x":{"datum":472.125,"type":"quantitative"},"y":{"field":"bid","type":"quantitative","title":null}}},
{"data":{"values":[{"bid":4655.49}]},
 "mark":{"type":"text","fontSize":9,"color":"#ffffff","align":"center","baseline":"middle","font":"Liberation Sans"},
 "encoding":{"x":{"datum":472.125,"type":"quantitative"},"y":{"field":"bid","type":"quantitative","title":null},"text":{"field":"bid","type":"quantitative","format":".2f"}}}
]
}
